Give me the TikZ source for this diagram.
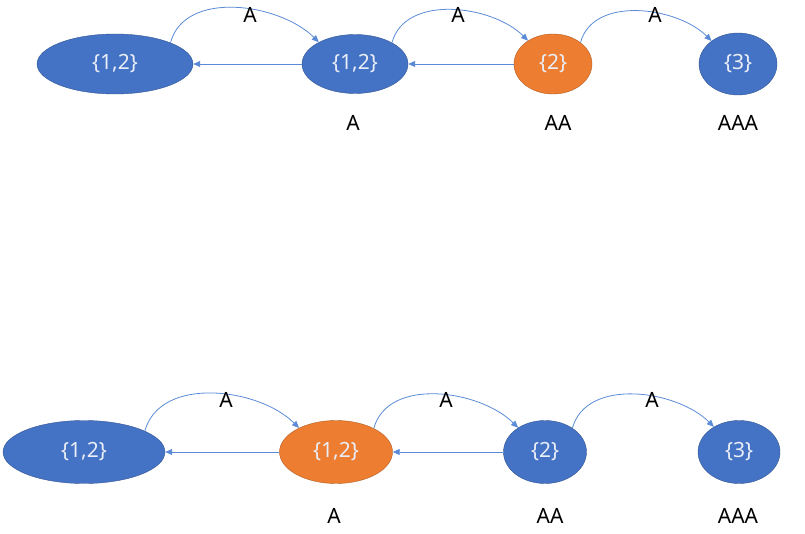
\documentclass[tikz,border=0pt]{standalone}
\usepackage{fontspec}
\setmainfont{Noto Sans}
\usetikzlibrary{arrows.meta, positioning, shapes.geometric}
\definecolor{stblue}{HTML}{4472C4}
\definecolor{storange}{HTML}{ED7D31}
\definecolor{arcblue}{HTML}{5B8BD6}

\begin{document}
\begin{tikzpicture}[x=1pt, y=1pt, >={Triangle[length=7pt, width=6pt]},
  state/.style={ellipse, draw=stblue!75!black, line width=0.4pt, fill=stblue,
                text=white!88!stblue, font=\fontsize{21}{24}\selectfont, inner sep=0pt},
  hot/.style={state, draw=storange!75!black, fill=storange},
  edge/.style={->, draw=arcblue, line width=0.8pt},
  lbl/.style={font=\fontsize{21}{24}\selectfont, inner sep=0pt}]
  \useasboundingbox (0,0) rectangle (805,533);

  % top chain
  \node[state, minimum width=156, minimum height=60] (a0) at (115,469) {\{1,2\}};
  \node[state, minimum width=106, minimum height=59] (a1) at (355,469) {\{1,2\}};
  \node[hot,   minimum width=78,  minimum height=60] (a2) at (553,469) {\{2\}};
  \node[state, minimum width=78,  minimum height=62] (a3) at (738,469) {\{3\}};

  \draw[edge] (a1.west) -- (a0.east);
  \draw[edge] (a2.west) -- (a1.east);
  \draw[edge] (a0.21) to[out=75, in=135, looseness=0.95] (a1.149);
  \draw[edge] (a1.30) to[out=75, in=135, looseness=0.95] (a2.137);
  \draw[edge] (a2.38) to[out=75, in=135, looseness=0.95] (a3.139);

  \node[lbl] (ta0) at (250,518) {A};
  \node[lbl] (ta1) at (458,518) {A};
  \node[lbl] (ta2) at (655,518) {A};

  \node[lbl] (wa1) at (353,410) {A};
  \node[lbl] (wa2) at (558,410) {AA};
  \node[lbl] (wa3) at (738,410) {AAA};

  % bottom chain
  \node[state, minimum width=162, minimum height=63] (b0) at (84,81) {\{1,2\}};
  \node[hot,   minimum width=113, minimum height=63] (b1) at (336,81) {\{1,2\}};
  \node[state, minimum width=83,  minimum height=63] (b2) at (545,81) {\{2\}};
  \node[state, minimum width=82,  minimum height=63] (b3) at (739,81) {\{3\}};

  \draw[edge] (b1.west) -- (b0.east);
  \draw[edge] (b2.west) -- (b1.east);
  \draw[edge] (b0.19) to[out=75, in=135, looseness=0.95] (b1.147);
  \draw[edge] (b1.32) to[out=75, in=135, looseness=0.95] (b2.138);
  \draw[edge] (b2.41) to[out=75, in=135, looseness=0.95] (b3.135);

  \node[lbl] (tb0) at (226,133) {A};
  \node[lbl] (tb1) at (446,133) {A};
  \node[lbl] (tb2) at (652,133) {A};

  \node[lbl] (wb1) at (334,17) {A};
  \node[lbl] (wb2) at (550,17) {AA};
  \node[lbl] (wb3) at (738,17) {AAA};
\end{tikzpicture}
\end{document}
